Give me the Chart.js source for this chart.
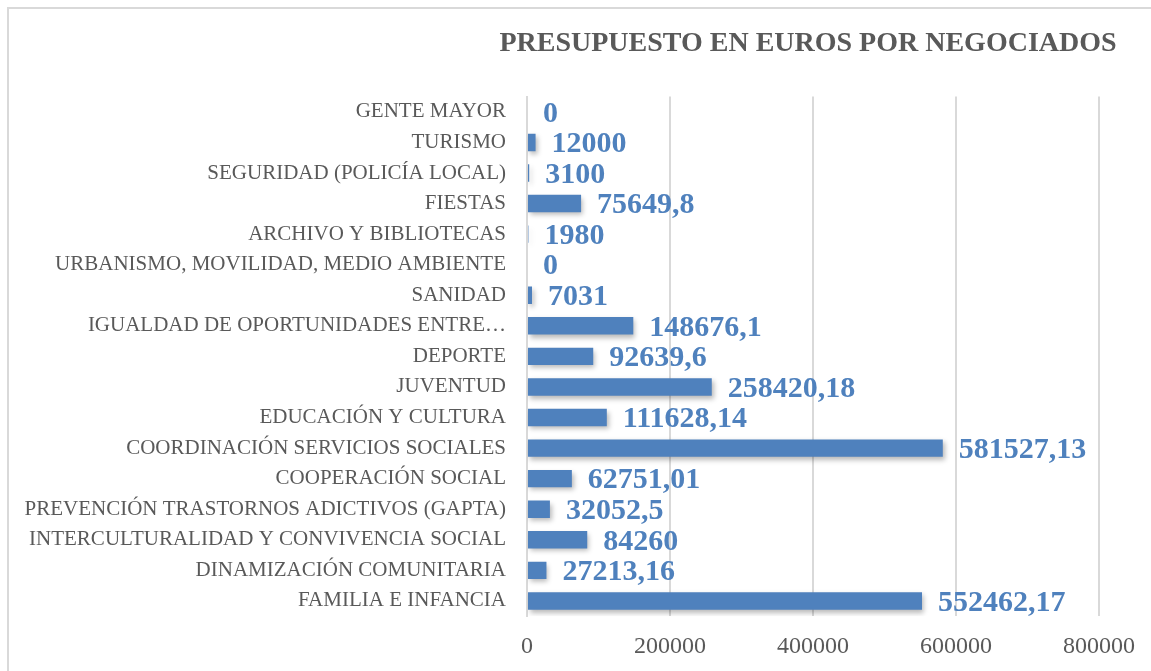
<!DOCTYPE html>
<html>
<head>
<meta charset="utf-8">
<script src="https://cdn.jsdelivr.net/npm/chart.js@4/dist/chart.umd.min.js"></script>
<style>
  body { margin: 0; background: #fff; overflow: hidden; }
  #wrap { position: relative; width: 1151px; height: 671px; overflow: hidden; }
  #frame { position: absolute; left: 7px; top: 7px; right: 0; bottom: 0;
           border-left: 2px solid #d9d9d9; border-top: 2px solid #d9d9d9; }
  #chart { position: absolute; left: 0; top: 0; }
</style>
</head>
<body>
<div id="wrap">
  <div id="frame"></div>
  <canvas id="chart" width="1151" height="690"></canvas>
</div>
<script>
// categories, top to bottom
const negociados = [
  'GENTE MAYOR',
  'TURISMO',
  'SEGURIDAD (POLICÍA LOCAL)',
  'FIESTAS',
  'ARCHIVO Y BIBLIOTECAS',
  'URBANISMO, MOVILIDAD, MEDIO AMBIENTE',
  'SANIDAD',
  'IGUALDAD DE OPORTUNIDADES ENTRE…',
  'DEPORTE',
  'JUVENTUD',
  'EDUCACIÓN Y CULTURA',
  'COORDINACIÓN SERVICIOS SOCIALES',
  'COOPERACIÓN SOCIAL',
  'PREVENCIÓN TRASTORNOS ADICTIVOS (GAPTA)',
  'INTERCULTURALIDAD Y CONVIVENCIA SOCIAL',
  'DINAMIZACIÓN COMUNITARIA',
  'FAMILIA E INFANCIA'
];
const presupuesto = [
  0, 12000, 3100, 75649.8, 1980, 0, 7031, 148676.1, 92639.6,
  258420.18, 111628.14, 581527.13, 62751.01, 32052.5, 84260, 27213.16, 552462.17
];
const xTicks = [0, 200000, 400000, 600000, 800000];
const titulo = 'PRESUPUESTO EN EUROS POR NEGOCIADOS';

const grey = '#595959';
const blue = '#4F81BD';
const titleFont = { family: 'Liberation Serif', size: 28, weight: 'bold' };
const titlePad = { top: 19, bottom: 36 };

// labels at the end of each bar
const barLabels = {
  id: 'barLabels',
  afterDatasetsDraw(chart) {
    const ctx = chart.ctx;
    const meta = chart.getDatasetMeta(0);
    ctx.save();
    ctx.font = 'bold 30px "Liberation Serif"';
    ctx.fillStyle = blue;
    ctx.textBaseline = 'middle';
    ctx.textAlign = 'left';
    meta.data.forEach((bar, i) => {
      const txt = String(presupuesto[i]).replace('.', ',');
      ctx.fillText(txt, bar.x + 16, bar.y + 2);
    });
    ctx.restore();
  }
};

// title text centred over the plot area, not squeezed into it
const plotTitle = {
  id: 'plotTitle',
  afterDraw(chart) {
    const ctx = chart.ctx;
    const area = chart.chartArea;
    const tb = chart.titleBlock;
    ctx.save();
    ctx.font = 'bold ' + titleFont.size + 'px "' + titleFont.family + '"';
    ctx.fillStyle = grey;
    ctx.textAlign = 'center';
    ctx.textBaseline = 'middle';
    ctx.fillText(titulo, (area.left + area.right) / 2 - 5,
                 tb.top + titlePad.top + titleFont.size * 0.6);
    ctx.restore();
  }
};

// soft shadow under bars
const barShadow = {
  id: 'barShadow',
  beforeDatasetDraw(chart) {
    const ctx = chart.ctx;
    ctx.save();
    ctx.shadowColor = 'rgba(0,0,0,0.28)';
    ctx.shadowBlur = 5;
    ctx.shadowOffsetX = 2;
    ctx.shadowOffsetY = 3;
  },
  afterDatasetDraw(chart) {
    chart.ctx.restore();
  }
};

const ctx = document.getElementById('chart').getContext('2d');
const myChart = new Chart(ctx, {
  type: 'bar',
  data: {
    labels: negociados,
    datasets: [{
      data: presupuesto,
      backgroundColor: blue,
      borderWidth: 0,
      barPercentage: 0.57,
      categoryPercentage: 1
    }]
  },
  options: {
    indexAxis: 'y',
    responsive: false,
    animation: false,
    layout: { padding: { left: 12, right: 4, top: 8, bottom: 13 } },
    plugins: {
      legend: { display: false },
      tooltip: { enabled: false },
      title: {
        display: true,
        text: titulo,
        color: 'rgba(0,0,0,0)', // space only, text drawn by plotTitle
        font: titleFont,
        padding: titlePad
      }
    },
    scales: {
      x: {
        min: 0,
        max: 800000,
        afterBuildTicks: function (scale) {
          scale.ticks = xTicks.map(v => ({ value: v }));
        },
        grid: { color: '#d9d9d9', lineWidth: 2, drawTicks: false },
        border: { display: false },
        ticks: {
          color: grey,
          padding: 16,
          maxRotation: 0,
          font: { family: 'Liberation Serif', size: 24 },
          callback: function (value) { return value; }
        }
      },
      y: {
        afterFit: function (scale) { scale.width = 515; },
        grid: { display: false, drawTicks: false },
        border: { display: true, color: '#d9d9d9', width: 2 },
        ticks: {
          color: grey,
          padding: 21,
          autoSkip: false,
          font: { family: 'Liberation Serif', size: 21 }
        }
      }
    }
  },
  plugins: [barShadow, barLabels, plotTitle]
});
</script>
</body>
</html>
